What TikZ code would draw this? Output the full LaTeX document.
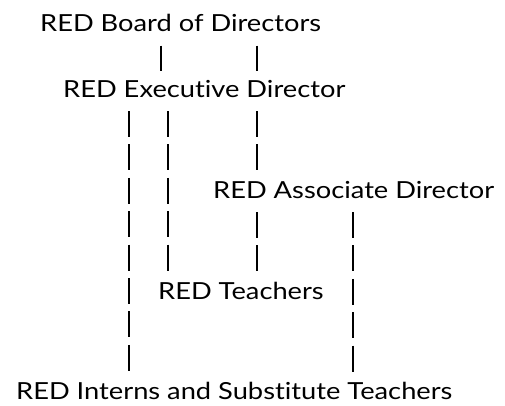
\documentclass[tikz,border=0pt]{standalone}
\usepackage{fontspec}
\setmainfont{Lato}[FakeStretch=1.16, Ligatures=NoCommon]
\usetikzlibrary{calc}
\tikzstyle{title}=[anchor=base west, inner sep=0pt, font=\fontsize{23.5}{28}\selectfont]
\tikzstyle{pipes}=[line width=2pt, dash pattern=on 26pt off 7.4pt]

\begin{document}
\begin{tikzpicture}[x=1pt,y=1pt]
\useasboundingbox (0,0) rectangle (505,405);

\node[title] (board) at (40, 373.3) {RED Board of Directors};
\node[title] (exec) at (63, 308) {RED Executive Director};
\node[title] (assoc) at (213, 207) {RED Associate Director};
\node[title] (teach) at (158, 106) {RED Teachers};
\node[title] (interns) at (16, 6) {RED Interns and Substitute Teachers};

% columns of bars
\coordinate (c1) at (129,0);
\coordinate (c2) at (168,0);
\coordinate (c3) at (161,0);
\coordinate (c4) at (257,0);
\coordinate (c5) at (353,0);

\draw[pipes] ($(board.base -| c3)+(0,-14)$) -- ($(exec.base -| c3)+(0,26)$);
\draw[pipes] ($(board.base -| c4)+(0,-14)$) -- ($(exec.base -| c4)+(0,26)$);

\draw[pipes] ($(exec.base -| c1)+(0,-14)$) -- ($(interns.base -| c1)+(0,27)$);
\draw[pipes] ($(exec.base -| c2)+(0,-14)$) -- ($(teach.base -| c2)+(0,27)$);
\draw[pipes] ($(exec.base -| c4)+(0,-14)$) -- ($(assoc.base -| c4)+(0,27)$);

\draw[pipes] ($(assoc.base -| c4)+(0,-14)$) -- ($(teach.base -| c4)+(0,27)$);
\draw[pipes] ($(assoc.base -| c5)+(0,-14)$) -- ($(interns.base -| c5)+(0,27)$);

\end{tikzpicture}
\end{document}
